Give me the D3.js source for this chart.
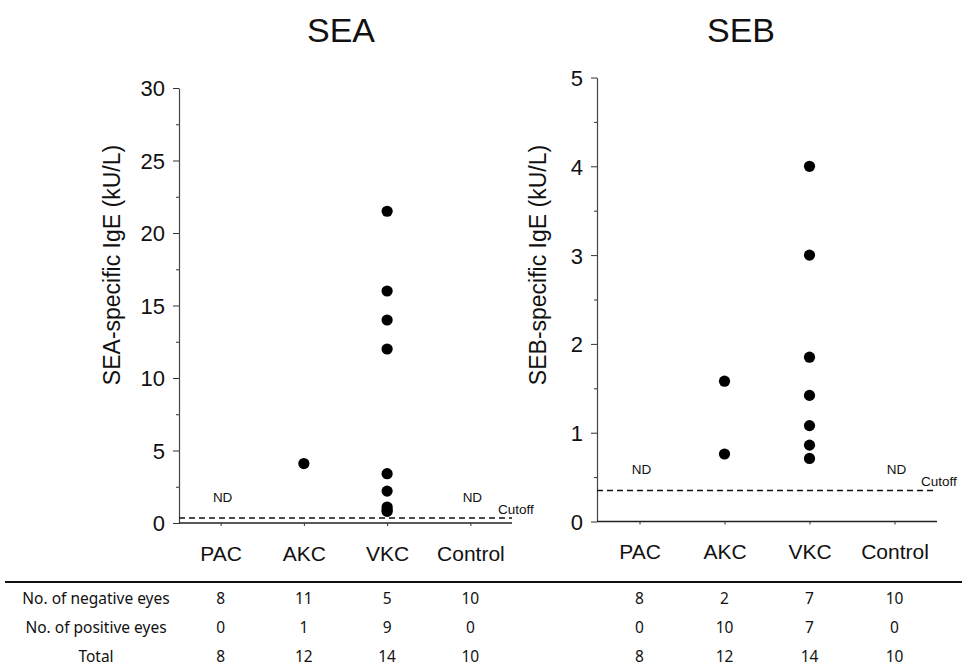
<!DOCTYPE html>
<html>
<head>
<meta charset="utf-8">
<script src="https://cdn.jsdelivr.net/npm/d3@7"></script>
<style>
  body { margin: 0; background: #fff; }
  svg text { font-family: "Liberation Sans", Arial, sans-serif; fill: #111; }
  .tbl text { font-family: "Noto Sans", "Open Sans", sans-serif; }
</style>
</head>
<body>
<div id="chart"></div>
<script>
// groups along the x axis
const categories = ["PAC", "AKC", "VKC", "Control"];

// SEA-specific IgE (kU/L), per group
const seaValues = [
    [],
    [4.1],
    [21.5, 16, 14, 12, 3.4, 2.2, 1.1, 0.9, 0.8],
    []
];
// SEB-specific IgE (kU/L), per group
const sebValues = [
    [],
    [1.58, 0.76],
    [4.0, 3.0, 1.85, 1.42, 1.08, 0.86, 0.71],
    []
];

const cutoff = 0.35;
const ndGroups = ["PAC", "Control"];

// table under the panels
const rowLabels = ["No. of negative eyes", "No. of positive eyes", "Total"];
const seaNegative = [8, 11, 5, 10];
const seaPositive = [0, 1, 9, 0];
const seaTotal = [8, 12, 14, 10];
const sebNegative = [8, 2, 7, 10];
const sebPositive = [0, 10, 7, 0];
const sebTotal = [8, 12, 14, 10];

const width = 966, height = 666;

const svg = d3.select("#chart")
    .append("svg")
    .attr("width", width)
    .attr("height", height);

function drawPanel(opt) {
    const x = d3.scalePoint().domain(categories).range(opt.xRange).padding(0.5);
    const y = d3.scaleLinear().domain(opt.yDomain).range(opt.yRange);
    const g = svg.append("g");

    // minor ticks
    g.append("g")
        .attr("transform", `translate(${opt.xRange[0]},0)`)
        .call(d3.axisLeft(y).tickValues(opt.minor).tickSize(3).tickFormat(""))
        .call(a => a.select(".domain").remove())
        .call(a => a.selectAll("line").attr("stroke", "#333"));

    // y axis
    g.append("g")
        .attr("transform", `translate(${opt.xRange[0]},0)`)
        .call(d3.axisLeft(y).tickValues(opt.major).tickFormat(d3.format("d"))
            .tickSize(6).tickSizeOuter(0).tickPadding(8))
        .call(a => a.select(".domain").attr("stroke", "#444").attr("stroke-width", 1.2))
        .call(a => a.selectAll("line").attr("stroke", "#333"))
        .call(a => a.selectAll("text")
            .style("font-size", "22px")
            .attr("dy", "0.36em"));

    // x axis
    g.append("g")
        .attr("transform", `translate(0,${opt.yRange[0]})`)
        .call(d3.axisBottom(x).tickSize(3).tickSizeOuter(0).tickPadding(20))
        .call(a => a.select(".domain")
            .attr("d", `M${opt.xRange[0]},0H${opt.xRange[1]}`)
            .attr("stroke", "#222").attr("stroke-width", 1.5))
        .call(a => a.selectAll("line").attr("stroke", "#333"))
        .call(a => a.selectAll("text").style("font-size", "21px"));

    // title
    svg.append("text")
        .attr("x", opt.titleX)
        .attr("y", 42)
        .attr("text-anchor", "middle")
        .style("font-size", "34px")
        .text(opt.title);

    // y label
    svg.append("text")
        .attr("transform", `translate(${opt.labelX},265) rotate(-90)`)
        .attr("text-anchor", "middle")
        .attr("dy", "0.35em")
        .style("font-size", "23px")
        .text(opt.yLabel);

    // cutoff line
    g.append("line")
        .attr("x1", opt.xRange[0])
        .attr("x2", opt.cutoffEnd)
        .attr("y1", y(cutoff))
        .attr("y2", y(cutoff))
        .attr("stroke", "#111")
        .attr("stroke-width", 1.5)
        .attr("stroke-dasharray", "6,4");

    g.append("text")
        .attr("x", opt.cutoffEnd - 14)
        .attr("y", y(cutoff) - 4)
        .style("font-size", "13.5px")
        .text("Cutoff");

    // ND labels
    g.selectAll(".nd")
        .data(ndGroups)
        .enter()
        .append("text")
        .attr("x", d => x(d) + 2)
        .attr("y", y(opt.ndValue))
        .attr("dy", "0.35em")
        .attr("text-anchor", "middle")
        .style("font-size", "13.5px")
        .text("ND");

    // points
    const pts = [];
    opt.values.forEach((vals, i) => vals.forEach(v => pts.push({cat: categories[i], v: v})));
    g.selectAll(".dot")
        .data(pts)
        .enter()
        .append("circle")
        .attr("cx", d => x(d.cat))
        .attr("cy", d => y(d.v))
        .attr("r", 5.6)
        .attr("fill", "#000");

    return x;
}

const xSea = drawPanel({
    title: "SEA", titleX: 341,
    yLabel: "SEA-specific IgE (kU/L)", labelX: 112,
    xRange: [179, 512], yDomain: [0, 30], yRange: [523, 88],
    major: [0, 5, 10, 15, 20, 25, 30],
    minor: [2.5, 7.5, 12.5, 17.5, 22.5, 27.5],
    values: seaValues, ndValue: 1.75, cutoffEnd: 512
});

const xSeb = drawPanel({
    title: "SEB", titleX: 741,
    yLabel: "SEB-specific IgE (kU/L)", labelX: 538,
    xRange: [597, 937], yDomain: [0, 5], yRange: [521.5, 77.5],
    major: [0, 1, 2, 3, 4, 5],
    minor: [0.5, 1.5, 2.5, 3.5, 4.5],
    values: sebValues, ndValue: 0.59, cutoffEnd: 935
});

// table
const tbl = svg.append("g").attr("class", "tbl");
tbl.append("line")
    .attr("x1", 5).attr("x2", 962)
    .attr("y1", 582).attr("y2", 582)
    .attr("stroke", "#111")
    .attr("stroke-width", 2);

const rowY = d3.scalePoint().domain(rowLabels).range([599, 657]);
const seaRows = [seaNegative, seaPositive, seaTotal];
const sebRows = [sebNegative, sebPositive, sebTotal];

rowLabels.forEach((lab, r) => {
    tbl.append("text")
        .attr("x", 96)
        .attr("y", rowY(lab))
        .attr("dy", "0.35em")
        .attr("text-anchor", "middle")
        .style("font-size", "15.5px")
        .text(lab);

    [[seaRows[r], xSea], [sebRows[r], xSeb]].forEach(([vals, xs]) => {
        tbl.selectAll(null)
            .data(vals)
            .enter()
            .append("text")
            .attr("x", (d, i) => xs(categories[i]))
            .attr("y", rowY(lab))
            .attr("dy", "0.35em")
            .attr("text-anchor", "middle")
            .style("font-size", "15.5px")
            .text(d => d);
    });
});
</script>
</body>
</html>
